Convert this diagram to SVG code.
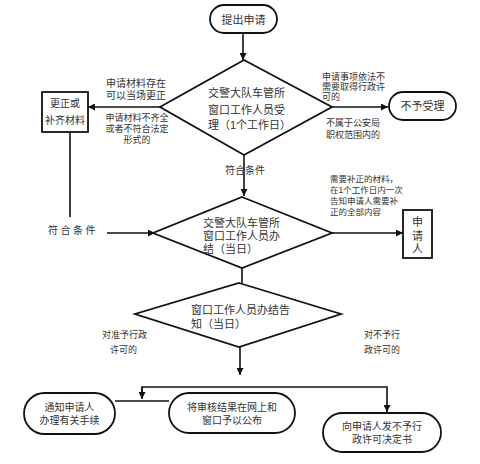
<svg xmlns="http://www.w3.org/2000/svg" width="480" height="464" viewBox="0 0 480 464">
<style>
.s{fill:#fff;stroke:#111;stroke-width:1.8}
.c{fill:none;stroke:#111;stroke-width:1.6}
text{font-family:"Liberation Sans","Noto Sans CJK SC",sans-serif;fill:#333}
.n{font-size:11px}
.m{font-size:10px}
.l{font-size:9px}
.k{font-size:8.5px}
</style>
<defs>
<marker id="a" viewBox="0 0 10 10" refX="10" refY="5" markerWidth="7" markerHeight="7" markerUnits="userSpaceOnUse" orient="auto"><path d="M0,0L10,5L0,10z" fill="#111"/></marker>
</defs>
<rect width="480" height="464" fill="#fff"/>
<g id="connectors">
<path class="c" d="M243,33V60" marker-end="url(#a)"/>
<path class="c" d="M160,107H88" marker-end="url(#a)"/>
<path class="c" d="M332,107H388" marker-end="url(#a)"/>
<path class="c" d="M244,155V196" marker-end="url(#a)"/>
<path class="c" d="M70,132V217"/>
<path class="c" d="M107,233H155" marker-end="url(#a)"/>
<path class="c" d="M332,233H403" marker-end="url(#a)"/>
<path class="c" d="M242,268V283"/>
<path class="c" d="M240,347V375" marker-end="url(#a)"/>
<path class="c" d="M142,398V387H387V412" marker-end="url(#a)"/>
<path class="c" d="M142,387V399" marker-end="url(#a)"/>
<path class="c" d="M115,401H169"/>
</g>
<g id="start">
<rect class="s" x="210" y="5" width="67" height="28" rx="14"/>
<text class="n" x="243.5" y="23.5" text-anchor="middle">提出申请</text>
</g>
<g id="d1">
<path class="s" d="M244,60L332,107L244,155L160,107Z"/>
<text class="n" x="208" y="97">交警大队车管所</text>
<text class="n" x="208" y="114">窗口工作人员受</text>
<text class="n" x="208" y="129">理（1个工作日）</text>
</g>
<g id="fix">
<rect class="s" x="42" y="92" width="46" height="40"/>
<text class="m" x="65" y="107" text-anchor="middle">更正或</text>
<text class="m" x="65" y="124" text-anchor="middle">补齐材料</text>
</g>
<g id="reject">
<rect class="s" x="389" y="92" width="67" height="28" rx="14"/>
<text class="n" x="422.5" y="110" text-anchor="middle">不予受理</text>
</g>
<g id="d2">
<path class="s" d="M242,197L332,233L242,268L153,233Z"/>
<text class="n" x="203" y="227">交警大队车管所</text>
<text class="n" x="203" y="240">窗口工作人员办</text>
<text class="n" x="203" y="253">结（当日）</text>
</g>
<g id="applicant">
<rect class="s" x="403" y="210" width="29" height="48"/>
<text class="n" x="417.5" y="226" text-anchor="middle">申</text>
<text class="n" x="417.5" y="240" text-anchor="middle">请</text>
<text class="n" x="417.5" y="253" text-anchor="middle">人</text>
</g>
<g id="d3">
<path class="s" d="M239,283L341,314L239,347L135,314Z"/>
<text class="n" x="191" y="314">窗口工作人员办结告</text>
<text class="n" x="191" y="328">知（当日）</text>
</g>
<g id="notify">
<rect class="s" x="24" y="393" width="91" height="41" rx="20.5"/>
<text class="m" x="69.5" y="411" text-anchor="middle">通知申请人</text>
<text class="m" x="69.5" y="424" text-anchor="middle">办理有关手续</text>
</g>
<g id="publish">
<rect class="s" x="169" y="393" width="126" height="40" rx="20"/>
<text class="m" x="232" y="411" text-anchor="middle">将审核结果在网上和</text>
<text class="m" x="232" y="424" text-anchor="middle">窗口予以公布</text>
</g>
<g id="deny">
<rect class="s" x="323" y="413" width="118" height="39" rx="19.5"/>
<text class="m" x="382" y="430" text-anchor="middle">向申请人发不予行</text>
<text class="m" x="382" y="443" text-anchor="middle">政许可决定书</text>
</g>
<g id="labels">
<text class="m" x="136" y="87" text-anchor="middle">申请材料存在</text>
<text class="m" x="136" y="99" text-anchor="middle">可以当场更正</text>
<text class="l" x="137" y="121" text-anchor="middle">申请材料不齐全</text>
<text class="l" x="137" y="132" text-anchor="middle">或者不符合法定</text>
<text class="l" x="137" y="143" text-anchor="middle">形式的</text>
<text class="l" x="322" y="80">申请事项依法不</text>
<text class="l" x="322" y="90">需要取得行政许</text>
<text class="l" x="322" y="100">可的</text>
<text class="l" x="326" y="126">不属于公安局</text>
<text class="l" x="326" y="138">职权范围内的</text>
<text class="m" x="245" y="174" text-anchor="middle">符合条件</text>
<text class="m" x="48" y="234" letter-spacing="2.5">符合条件</text>
<text class="k" x="330" y="182">需要补正的材料，</text>
<text class="k" x="330" y="193">在1个工作日内一次</text>
<text class="k" x="330" y="204">告知申请人需要补</text>
<text class="k" x="330" y="215">正的全部内容</text>
<text class="l" x="102" y="338">对准予行政</text>
<text class="l" x="110" y="353">许可的</text>
<text class="l" x="364" y="338">对不予行</text>
<text class="l" x="364" y="353">政许可的</text>
</g>
</svg>
